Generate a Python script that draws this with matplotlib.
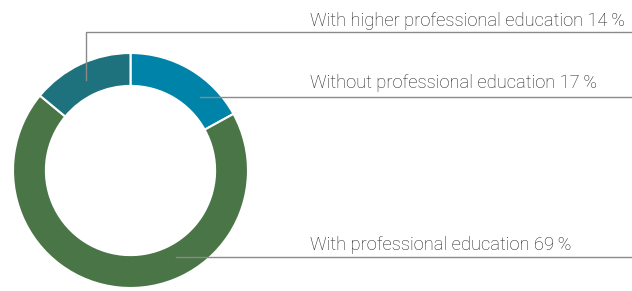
import matplotlib.pyplot as plt

labels = ['Without professional education', 'With professional education',
          'With higher professional education']
shares = [17, 69, 14]
colors = ['#0083a9', '#4a7647', '#1d727e']

W, H = 632, 291
fig = plt.figure(figsize=(W / 100, H / 100), dpi=100)
ax = fig.add_axes([0, 0, 1, 1])

cx, cy, r = 130.5, H - 170.5, 117.5
ax.pie(shares, colors=colors, startangle=90, counterclock=False,
       center=(cx, cy), radius=r, frame=True,
       wedgeprops=dict(width=r * 0.28, edgecolor='white', linewidth=1.5))
ax.set_xlim(0, W)
ax.set_ylim(0, H)
ax.set_aspect('equal')
ax.axis('off')

line_c = '#8a8a8a'
text_c = '#222222'
font = dict(family='Roboto', fontweight='light', fontsize=13.2, color=text_c)


def px(y):
    # pixel row from the top -> data y
    return H - y


# higher professional education: elbow leader
ax.plot([86, 86, W], [px(80), px(32), px(32)], color=line_c, lw=1)
ax.text(310, px(26.5), f'{labels[2]} {shares[2]}\u2009%', va='baseline', **font)

ax.plot([200, W], [px(97), px(97)], color=line_c, lw=1)
ax.text(310, px(88), f'{labels[0]} {shares[0]}\u2009%', va='baseline', **font)

ax.plot([176, W], [px(257), px(257)], color=line_c, lw=1)
ax.text(310, px(250.5), f'{labels[1]} {shares[1]}\u2009%', va='baseline', **font)

fig.savefig('out.png', dpi=100)
